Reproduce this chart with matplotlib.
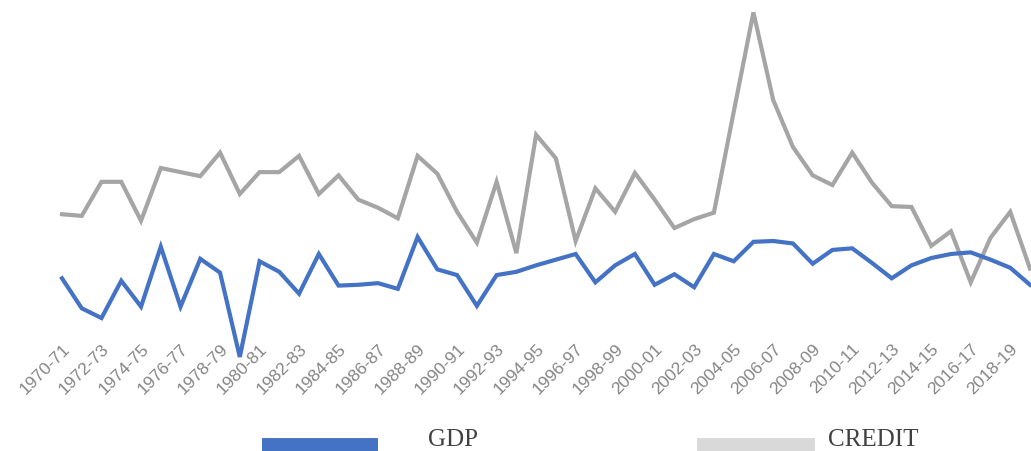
#! /usr/bin/python

# GDP growth vs bank credit growth, 1970-71 to 2019-20 (per cent)

import matplotlib
matplotlib.use('Agg')
import matplotlib.pyplot as plt
from matplotlib.lines import Line2D

# Financial years 1970-71 ... 2019-20
years = ["%d-%02d" % (y, (y + 1) % 100) for y in range(1970, 2020)]

gdp = [4.5, 0.8, -0.4, 4.2, 1.0, 8.4, 1.0, 6.9, 5.2, -5.2,
       6.6, 5.3, 2.6, 7.5, 3.6, 3.7, 3.9, 3.2, 9.6, 5.6,
       4.9, 1.1, 4.9, 5.3, 6.1, 6.8, 7.5, 4.0, 6.1, 7.5,
       3.7, 5.0, 3.4, 7.5, 6.6, 9.0, 9.1, 8.8, 6.3, 8.0,
       8.2, 6.4, 4.5, 6.1, 7.0, 7.5, 7.7, 6.8, 5.8, 3.7]

credit = [12.4, 12.2, 16.4, 16.4, 11.6, 18.1, 17.6, 17.1, 20.0, 14.9,
          17.6, 17.6, 19.6, 14.9, 17.2, 14.2, 13.2, 11.9, 19.6, 17.4,
          12.7, 8.9, 16.4, 7.6, 22.2, 19.3, 9.1, 15.6, 12.7, 17.5,
          14.2, 10.7, 11.8, 12.6, 25.0, 37.3, 26.5, 20.7, 17.2, 16.0,
          20.0, 16.3, 13.4, 13.3, 8.5, 10.3, 4.0, 9.5, 12.7, 5.7]

W, H = 1031, 451

fig = plt.figure(figsize=(W / 100., H / 100.), dpi=100)
fig.patch.set_facecolor('white')

# axes box: plot area starts at x pixel 62, bottom at the tick-label line
x0, x1 = 62., 1030.
step = (x1 - x0) / (len(years) - 1)
ybot = 340.
ax = fig.add_axes([0., 1 - ybot / H, 1., ybot / H])
ax.set_facecolor('none')

ax.plot(range(len(years)), credit, color='#a5a5a5', lw=3.0, clip_on=False,
        solid_joinstyle='miter', zorder=3)
ax.plot(range(len(years)), gdp, color='#4472c4', lw=3.0, clip_on=False,
        solid_joinstyle='miter', zorder=4)

ax.set_xlim(-x0 / step, (len(years) - 1) + 1. / step)
ax.set_ylim(-3.11, 38.83)

for s in ax.spines.values():
    s.set_visible(False)
ax.set_yticks([])
ax.set_xticks(range(0, len(years), 2))
ax.set_xticklabels(years[::2], rotation=45, ha='right', va='top',
                   rotation_mode='anchor', fontsize=12.5, color='#858585',
                   family='Liberation Sans')
ax.tick_params(axis='x', length=0, pad=1)

# legend along the bottom edge (partly cut off like the source)
def px(x, y):
    return x / W, 1 - y / H

ly = 445.
fig.add_artist(Line2D([262 / W, 378 / W], [1 - ly / H] * 2, color='#4472c4', lw=10,
                      solid_capstyle='butt'))
fig.add_artist(Line2D([697 / W, 815 / W], [1 - ly / H] * 2, color='#d9d9d9', lw=10,
                      solid_capstyle='butt'))
fig.text(*px(428, 446), "GDP", fontsize=18, color='#404040',
         family='Liberation Serif', ha='left', va='baseline')
fig.text(*px(828, 446), "CREDIT", fontsize=18, color='#404040',
         family='Liberation Serif', ha='left', va='baseline')

fig.savefig('out.png', dpi=100, facecolor='white')
